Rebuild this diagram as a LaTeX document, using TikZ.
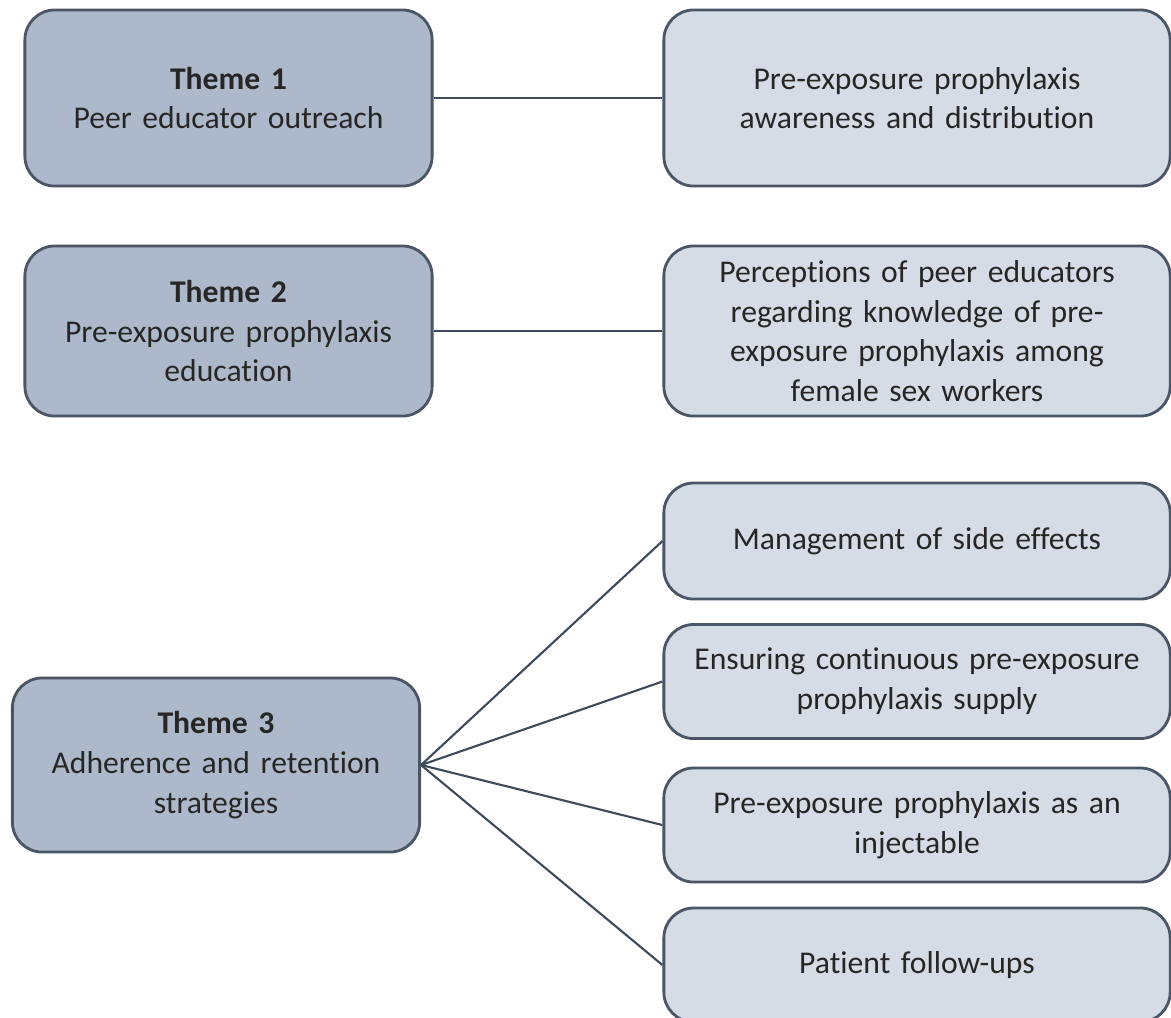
\documentclass[tikz,border=0pt]{standalone}
\usepackage{fontspec}
\setmainfont[Ligatures=NoCommon]{Carlito}
\definecolor{themefill}{HTML}{ADB9CA}
\definecolor{topicfill}{HTML}{D6DCE5}
\definecolor{boxline}{HTML}{4A5566}
\definecolor{linkline}{HTML}{3F4A5A}
\tikzset{
  theme/.style={draw=boxline, fill=themefill, rounded corners=8.5pt, line width=0.8pt, minimum width=4.07cm, text width=4cm, align=center, inner sep=0pt, text=black!85, font=\fontsize{9}{11.3}\selectfont},
  topic/.style={draw=boxline, fill=topicfill, rounded corners=8.5pt, line width=0.8pt, minimum width=5.06cm, text width=5cm, align=center, inner sep=0pt, text=black!85, font=\fontsize{9}{11.3}\selectfont},
  link/.style={linkline, line width=0.6pt}
}
\begin{document}
\begin{tikzpicture}[x=0.01cm, y=-0.01cm]
  \useasboundingbox (0,0) rectangle (1171,1017);

  \node[theme, minimum height=1.76cm] (theme1) at (228.5,98) {\textbf{Theme 1}\\Peer educator outreach};
  \node[topic, minimum height=1.76cm] (topic1) at (917,98) {Pre-exposure prophylaxis\\awareness and distribution};
  \draw[link] (theme1) -- (topic1);

  \node[theme, minimum height=1.70cm] (theme2) at (228.5,331) {\textbf{Theme 2}\\Pre-exposure prophylaxis\\education};
  \node[topic, minimum height=1.70cm] (topic2) at (917,331) {Perceptions of peer educators\\regarding knowledge of pre-\\exposure prophylaxis among\\female sex workers};
  \draw[link] (theme2) -- (topic2);

  \node[theme, minimum height=1.74cm] (theme3) at (216,765) {\textbf{Theme 3}\\Adherence and retention\\strategies};
  \node[topic, minimum height=1.16cm] (topic3a) at (917,541) {Management of side effects};
  \node[topic, minimum height=1.14cm] (topic3b) at (917,681.5) {Ensuring continuous pre-exposure\\prophylaxis supply};
  \node[topic, minimum height=1.14cm] (topic3c) at (917,825) {Pre-exposure prophylaxis as an\\injectable};
  \node[topic, minimum height=1.14cm] (topic3d) at (917,965) {Patient follow-ups};
  \foreach \t in {topic3a,topic3b,topic3c,topic3d}
    \draw[link] (theme3.east) -- (\t.west);
\end{tikzpicture}
\end{document}
